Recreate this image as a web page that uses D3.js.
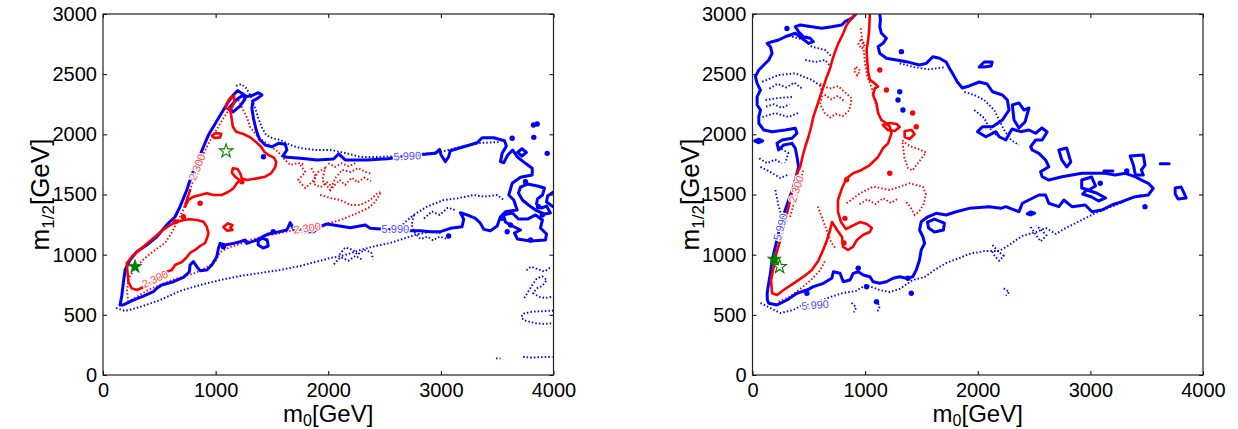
<!DOCTYPE html>
<html><head><meta charset="utf-8">
<script src="https://cdn.jsdelivr.net/npm/d3@7"></script>
<style>
body{margin:0;background:#fff}
text{font-family:"Liberation Sans",Arial,Helvetica,sans-serif}
</style></head>
<body><svg id="c" width="1238" height="429"></svg>
<script>
// ---------- shared axis data ----------
const xTicks = [0,1000,2000,3000,4000];
const yTicks = [0,500,1000,1500,2000,2500,3000];
const xDomain = [0,4000], yDomain = [0,3000];

// ---------- LEFT PANEL ----------
const leftBlueSolid = [
 [[151,582],[166,651],[180,762],[196,873],[240,956],[300,1025],[388,1080],[477,1149],[566,1247],[640,1315],[684,1399],[714,1468],[744,1537],[788,1662],[833,1759],[892,1897],[936,1994],[980,2063],[1025,2133],[1069,2202],[1114,2271],[1158,2327],[1194,2363],[1233,2341],[1277,2313],[1336,2327],[1380,2346],[1411,2327],[1372,2299],[1331,2279],[1322,2216],[1336,2133],[1360,2036],[1389,1959],[1440,1911],[1500,1897],[1558,1925],[1618,1917],[1633,1870],[1597,1820],[1633,1809],[1751,1801],[1900,1787],[2047,1795],[2092,1837],[2151,1787],[2344,1787],[2522,1797],[2640,1809],[2788,1828],[2951,1842],[2989,1876],[3002,1828],[3040,1773],[3069,1814],[3084,1864],[3203,1897],[3322,1930],[3366,1972],[3469,1972],[3564,1947],[3582,1903],[3544,1842],[3529,1773],[3558,1764],[3594,1828],[3638,1870],[3677,1814],[3751,1759],[3811,1718],[3811,1662],[3707,1643],[3633,1593],[3603,1496],[3647,1454],[3677,1371],[3573,1357],[3529,1315],[3500,1238],[3440,1199],[3381,1210],[3351,1261],[3307,1302],[3233,1330],[3173,1349],[3203,1294],[3188,1232],[3084,1219],[2996,1191],[2907,1191],[2818,1199],[2729,1199],[2492,1211],[2373,1219],[2329,1247],[2196,1224],[2047,1247],[1988,1255],[1929,1232],[1869,1191],[1751,1191],[1692,1211],[1662,1266],[1633,1205],[1529,1183],[1469,1172],[1413,1147],[1366,1122],[1277,1094],[1262,1122],[1218,1108],[1158,1094],[1084,1080],[1040,1094],[1025,1053],[1010,983],[966,914],[922,873],[862,867],[833,900],[803,942],[773,914],[767,858],[714,812],[625,775],[522,748],[477,720],[447,692],[358,656],[269,623],[180,582],[151,582]],
 [[1120,2219],[1182,2285],[1244,2327],[1262,2294],[1218,2236],[1156,2186],[1120,2219]],
 [[1378,1114],[1413,1138],[1458,1122],[1467,1072],[1422,1055],[1378,1080],[1378,1114]],
 [[3556,1330],[3635,1346],[3689,1296],[3769,1296],[3840,1330],[3902,1288],[3884,1222],[3938,1172],[3929,1122],[3796,1114],[3680,1130],[3653,1180],[3707,1205],[3635,1238],[3573,1271],[3556,1330]],
 [[3707,1562],[3769,1587],[3858,1571],[3920,1554],[3902,1496],[3858,1463],[3849,1421],[3893,1388],[3938,1404],[3973,1346],[3920,1338],[3840,1371],[3778,1413],[3724,1454],[3689,1512],[3707,1562]],
 [[4000,1521],[3947,1487],[3938,1437],[4000,1396]],
 [[3680,1850],[3720,1880],[3760,1850],[3720,1820],[3680,1850]]
];
const leftBlueDots = [[3633,1967],[3822,2078],[3855,2086],[3825,1975],[3944,1842],[3751,1606],[3867,1399],[3900,1330],[3069,1155],[3618,1247],[3589,1191],[3796,1122],[3544,1302],[1425,1814],[1511,1191],[1069,1066]];
const leftBlueDotted = [
 [[116,557],[196,532],[329,565],[507,623],[684,698],[862,748],[1040,789],[1218,823],[1396,848],[1573,873],[1751,906],[1884,939],[2018,972],[2151,997],[2284,1039],[2418,1072],[2551,1097],[2684,1138],[2800,1172],[2907,1188],[2996,1180]],
 [[2100,1000],[2150,1060],[2220,1040],[2260,1000],[2320,1040],[2380,1020],[2400,960]],
 [[2050,920],[2110,980],[2180,950],[2240,990],[2300,960]],
 [[2760,1330],[2740,1250],[2770,1180],[2820,1130],[2880,1150],[2930,1120],[2990,1150],[3060,1130]],
 [[2596,1188],[2684,1271],[2758,1330],[2877,1399],[3025,1454],[3144,1468],[3292,1496],[3381,1482],[3500,1496],[3558,1454]],
 [[2850,1300],[2920,1360],[2990,1330],[3060,1390],[3130,1370]],
 [[1182,2402],[1227,2418],[1271,2385],[1307,2327],[1342,2244],[1378,2136],[1413,2053],[1449,1994],[1502,1969],[1573,1953],[1662,1911],[1751,1886],[1884,1870],[2018,1870],[2151,1845],[2284,1812],[2462,1812],[2640,1820],[2818,1837],[2996,1853],[3173,1895],[3351,1928],[3529,1936]],
 [[4000,535],[3900,530],[3810,526],[3730,510],[3715,480],[3736,455],[3840,430],[3920,425],[4000,430]],
 [[3760,870],[3800,900],[3860,880],[3920,860],[3980,900]],
 [[3740,640],[3780,700],[3820,760],[3850,800],[3900,820],[3940,790],[3900,740],[3850,720],[3820,680],[3870,650],[3930,640],[3990,650]],
 [[3730,150],[3800,145],[3880,148],[3990,150]],
 [[3490,138],[3530,138]]
];
const leftRedSolid = [
 [[773,1537],[750,1470],[729,1399],[758,1454],[803,1482],[862,1496],[922,1510],[980,1496],[1055,1496],[1114,1523],[1158,1551],[1188,1593],[1212,1620],[1173,1648],[1144,1681],[1153,1718],[1194,1712],[1218,1676],[1233,1634],[1277,1620],[1366,1634],[1440,1648],[1491,1675],[1529,1726],[1538,1773],[1514,1809],[1469,1828],[1431,1856],[1404,1897],[1366,1930],[1307,1975],[1247,2003],[1182,2022],[1153,2063],[1144,2119],[1135,2175],[1123,2219]],
 [[1093,2244],[1129,2302],[1164,2319],[1164,2260],[1129,2202],[1093,2219],[1093,2244]],
 [[966,1990],[1000,2010],[1050,2005],[1040,1975],[990,1970],[966,1990]],
 [[211,928],[225,775],[255,720],[300,706],[358,729],[462,781],[566,858],[611,873],[640,914],[700,939],[738,972],[773,1014],[818,1039],[862,1072],[907,1097],[924,1138],[936,1178],[922,1232],[892,1274],[833,1288],[773,1294],[714,1288],[625,1261],[551,1219],[462,1149],[358,1066],[269,997],[211,928]],
 [[1069,1230],[1110,1260],[1150,1245],[1130,1225],[1150,1205],[1100,1200],[1069,1230]]
];
const leftRedDots = [[714,1315],[862,1427],[1233,1606],[640,1274]];
const leftRedDotted = [
 [[222,607],[213,706],[231,806],[284,889],[373,972],[462,1039],[551,1097],[613,1188],[667,1288],[711,1371],[747,1471],[791,1587],[836,1704],[880,1812],[925,1903],[969,1978],[1022,2061],[1076,2144],[1129,2219],[1173,2269]],
 [[1200,2285],[1244,2202],[1280,2136],[1307,2061],[1360,1994],[1413,1953],[1484,1903],[1556,1853],[1618,1787],[1662,1745],[1733,1762],[1796,1745]],
 [[1751,1745],[1796,1687],[1733,1620],[1796,1554],[1858,1604],[1911,1687],[1973,1720],[1947,1620],[2018,1537],[2062,1637],[2124,1704],[2196,1687],[2267,1720],[2329,1687],[2391,1670]],
 [[1850,1720],[1890,1650],[1870,1590],[1930,1560],[1990,1600],[2040,1560],[2100,1620],[2150,1580],[2210,1640],[2260,1600],[2320,1640],[2380,1610]],
 [[2000,1760],[2060,1730],[2120,1760],[2180,1735],[2240,1760]],
 [[1929,1496],[2018,1471],[2107,1454],[2196,1413],[2284,1413],[2373,1454],[2427,1504],[2462,1521]],
 [[2462,1512],[2418,1438],[2356,1388],[2240,1338],[2107,1288],[1973,1255],[1840,1222],[1707,1205],[1573,1180],[1440,1155],[1307,1122],[1218,1088],[1129,1064],[1040,1022],[996,939],[907,889],[818,848],[729,823],[613,789],[507,748],[400,706],[311,656],[222,607]]
];
const leftLabelText  = ["2.300","2.300","2.300","5.990","5.990"];
const leftLabelAt    = [[462,798],[1813,1221],[836,1728],[2596,1213],[2702,1820]];
const leftLabelKind  = ["red","red","red","blue","blue"];
const leftLabelAngle = [-25,-8,-68,0,-3];
const leftStarFilled = [284,900];
const leftStarHollow = [1093,1861];

// ---------- RIGHT PANEL ----------
const rightBlueSolid = [
 [[918,3000],[880,2964],[821,2936],[792,2909],[704,2894],[615,2881],[527,2894],[424,2909],[380,2894],[409,2853],[453,2811],[512,2798],[541,2770],[497,2756],[439,2798],[380,2840],[291,2811],[232,2784],[174,2770],[130,2756],[159,2728],[174,2673],[144,2618],[100,2576],[56,2535],[26,2479],[41,2424],[71,2368],[41,2313],[41,2244],[71,2202],[56,2147],[56,2092],[100,2036],[174,2022],[291,2036],[380,2050],[395,2009],[351,1967],[262,1953],[218,1925],[232,1870],[276,1911],[351,1925],[380,1884],[395,1814],[409,1731],[395,1676],[365,1565],[321,1454],[291,1371],[262,1288],[232,1178],[203,1066],[174,956],[159,845],[141,748],[130,679],[132,623],[144,596],[218,582],[306,623],[395,679],[483,706],[541,734],[630,762],[704,804],[718,858],[777,845],[806,775],[865,789],[894,845],[939,858],[983,831],[1042,817],[1071,775],[1130,762],[1189,775],[1248,804],[1307,817],[1366,804],[1424,817],[1454,873],[1483,956],[1498,1039],[1528,1094],[1513,1149],[1483,1205],[1498,1274],[1557,1315],[1631,1344],[1719,1330],[1808,1357],[1925,1385],[2102,1399],[2205,1385],[2249,1399],[2366,1357],[2396,1427],[2543,1496],[2602,1496],[2631,1427],[2720,1399],[2764,1454],[2837,1399],[2955,1413],[3014,1357],[3102,1371],[3190,1413],[3279,1440],[3397,1482],[3514,1496],[3558,1551],[3514,1593],[3455,1620],[3397,1648],[3309,1676],[3220,1662],[3132,1676],[3044,1676],[2925,1676],[2749,1648],[2631,1620],[2572,1648],[2558,1689],[2631,1731],[2602,1787],[2543,1842],[2484,1870],[2470,1897],[2514,1953],[2572,1953],[2616,2019],[2570,2053],[2514,2009],[2455,2036],[2381,2022],[2305,2044],[2278,2003],[2249,1953],[2190,1980],[2161,2022],[2072,1980],[1998,2022],[2042,2063],[2131,2063],[2219,2119],[2278,2202],[2263,2285],[2219,2327],[2131,2354],[2084,2418],[2013,2435],[1925,2402],[1863,2385],[1819,2435],[1784,2493],[1748,2551],[1719,2601],[1660,2632],[1601,2645],[1543,2590],[1483,2576],[1424,2590],[1366,2604],[1278,2618],[1189,2632],[1130,2673],[1115,2728],[1159,2756],[1189,2798],[1145,2840],[1130,2894],[1136,2950],[1130,3000]],
 [[1554,1271],[1616,1296],[1704,1263],[1695,1205],[1616,1188],[1563,1222],[1554,1271]],
 [[2923,1620],[3011,1645],[3046,1571],[2985,1537],[2923,1554],[2923,1620]],
 [[2932,1504],[3011,1479],[3073,1446],[3135,1471],[3055,1512],[2967,1537],[2932,1504]],
 [[3353,1820],[3470,1828],[3485,1745],[3453,1704],[3470,1662],[3400,1662],[3382,1745],[3353,1820]],
 [[3753,1554],[3806,1562],[3832,1512],[3850,1471],[3779,1463],[3753,1504],[3753,1554]],
 [[2013,2560],[2057,2601],[2128,2601],[2119,2568],[2057,2560],[2013,2560]],
 [[2307,2244],[2366,2261],[2411,2202],[2455,2219],[2437,2161],[2420,2103],[2366,2053],[2322,2119],[2307,2244]],
 [[2720,1870],[2790,1886],[2808,1828],[2826,1770],[2790,1729],[2746,1787],[2720,1870]],
 [[2440,1340],[2470,1355],[2505,1345],[2470,1330],[2440,1340]],
 [[20,1945],[56,1960],[90,1945],[56,1930],[20,1945]],
 [[3620,1755],[3700,1755]],
 [[3120,1695],[3200,1695]]
];
const rightBlueDots = [[306,2880],[1322,2687],[1307,2354],[1292,2285],[1336,2202],[939,887],[1013,734],[1101,609],[1380,804],[1410,679],[483,679],[3323,1695],[3485,1399],[3088,1593]];
const rightBlueDotted = [
 [[71,598],[141,565],[247,515],[362,540],[424,573],[556,598],[689,648],[804,681],[918,698],[1007,748],[1130,706],[1219,690],[1307,715],[1422,789],[1528,814],[1616,873],[1722,931],[1837,972],[1925,1006],[2057,1030],[2190,1030],[2278,1080],[2393,1155],[2517,1188],[2605,1222],[2693,1172],[2782,1222],[2923,1288],[3046,1346],[3161,1388],[3267,1429],[3364,1471],[3453,1496]],
 [[351,2811],[468,2784],[527,2728],[644,2701],[704,2645]],
 [[468,2618],[556,2601],[644,2618],[689,2568]],
 [[86,2437],[232,2493],[380,2507],[527,2452],[615,2396]],
 [[150,2380],[220,2420],[300,2390],[370,2430],[440,2380]],
 [[115,2285],[230,2302],[353,2310]],
 [[88,2144],[203,2177],[318,2144],[406,2177]],
 [[120,2230],[190,2250],[260,2220],[330,2250]],
 [[230,1895],[318,1845],[291,1762]],
 [[71,1729],[159,1687],[247,1637],[309,1662]],
 [[60,1800],[130,1760],[200,1790],[260,1760]],
 [[203,1537],[230,1413],[256,1330],[274,1222],[247,1122],[212,1022],[177,939]],
 [[1307,2590],[1439,2557],[1572,2540],[1704,2557]],
 [[1881,2352],[1969,2327],[2057,2285],[2146,2202],[2190,2119],[2234,2036],[2296,1953],[2366,1911]],
 [[1969,2202],[2057,2136],[2102,2053],[2164,1994]],
 [[2130,1080],[2180,1030],[2230,990],[2190,950],[2150,990],[2120,1040]],
 [[2470,1230],[2520,1160],[2560,1110],[2610,1160],[2570,1200],[2520,1240]],
 [[880,600],[920,560],[900,520]],
 [[1100,620],[1130,570],[1110,530]],
 [[2230,720],[2280,690],[2250,660]]
];
const rightRedSolid = [
 [[909,3000],[836,2909],[806,2840],[762,2756],[733,2687],[709,2618],[689,2549],[660,2479],[630,2396],[600,2313],[571,2230],[541,2147],[521,2063],[497,1980],[468,1897],[444,1814],[424,1731],[395,1675],[365,1565],[336,1454],[306,1344],[276,1232],[247,1122],[212,1011],[188,900],[165,789],[174,679],[218,665],[276,706],[365,762],[453,817],[527,873],[583,947],[627,1039],[662,1122],[689,1205],[706,1271],[751,1205],[795,1147],[804,1064],[848,1039],[892,1064],[927,1122],[980,1163],[1042,1188],[1060,1222],[1015,1255],[954,1271],[883,1238],[830,1213],[786,1271],[759,1355],[759,1454],[795,1554],[836,1635],[894,1676],[969,1704],[1042,1745],[1115,1812],[1159,1884],[1204,1925],[1234,2009],[1219,2063],[1189,2092],[1145,2119],[1115,2175],[1101,2258],[1071,2327],[1086,2382],[1115,2396],[1086,2424],[1042,2452],[1027,2520],[1018,2618],[1013,2701],[1027,2784],[1036,2867],[1042,3000]],
 [[1157,2078],[1219,2094],[1280,2086],[1307,2061],[1263,2028],[1201,2036],[1157,2078]],
 [[1351,2028],[1413,2036],[1439,2003],[1395,1961],[1351,1978],[1351,2028]]
];
const rightRedDots = [[1130,2535],[1189,2368],[1422,2177],[1454,2063],[1219,1676],[821,1302],[836,1622],[812,1097]];
const rightRedDotted = [
 [[232,610],[330,650],[430,720],[520,790],[600,870],[650,960]],
 [[450,1700],[420,1600],[390,1500],[360,1400],[330,1300]],
 [[600,2420],[680,2380],[760,2400],[820,2350],[880,2300],[860,2200],[800,2150],[740,2170],[690,2140],[640,2180],[600,2250],[620,2320],[600,2420]],
 [[640,2330],[700,2290],[760,2320],[820,2270]],
 [[960,2790],[1000,2750],[970,2710],[940,2750],[960,2790]],
 [[920,2560],[955,2530],[930,2490],[900,2530],[920,2560]],
 [[960,2880],[975,2780],[990,2680],[1000,2580],[1020,2480],[1060,2380],[1080,2300],[1110,2200],[1150,2100]],
 [[1330,1950],[1400,1900],[1470,1880],[1540,1850],[1500,1800],[1460,1750],[1420,1700],[1380,1720],[1350,1800],[1330,1950]],
 [[836,1427],[954,1510],[1071,1565],[1219,1537],[1395,1593],[1513,1565],[1540,1500],[1520,1420],[1480,1360],[1440,1330],[1400,1400],[1350,1450]],
 [[950,1420],[1020,1460],[1090,1420],[1160,1470],[1230,1430],[1300,1470]],
 [[580,1400],[620,1300],[660,1200],[700,1100],[740,1050]]
];
const rightLabelText  = ["5.990","5.990","2.300"];
const rightLabelAt    = [[556,582],[247,1230],[389,1546]];
const rightLabelKind  = ["blue","blue","red"];
const rightLabelAngle = [-5,-75,-72];
const rightStarFilled = [194,961];
const rightStarHollow = [241,900];

// ---------- drawing ----------
const svg = d3.select("#c");
const COL = {blue:"#0000ff", red:"#ff0000", blueLab:"#4d4dff", redLab:"#ff4d4d", star:"#008000"};
const PW = 450.5, TOP = 14, BOT = 375;

function panel(id, x0, d){
  const x = d3.scaleLinear().domain(xDomain).range([x0, x0+PW]);
  const y = d3.scaleLinear().domain(yDomain).range([BOT, TOP]);
  const line = d3.line().x(p=>x(p[0])).y(p=>y(p[1]));
  svg.append("clipPath").attr("id","clip"+id)
    .append("rect").attr("x",x0).attr("y",TOP).attr("width",PW).attr("height",BOT-TOP);
  const g = svg.append("g").attr("clip-path",`url(#clip${id})`);

  const dotted = (arr,col)=>g.append("g").selectAll("path").data(arr).join("path")
      .attr("d",line).attr("fill","none").attr("stroke",col).attr("stroke-width",1.9)
      .attr("stroke-dasharray","1.5 2.1");
  const solid = (arr,col,w)=>g.append("g").selectAll("path").data(arr).join("path")
      .attr("d",line).attr("fill","none").attr("stroke",col).attr("stroke-width",w)
      .attr("stroke-linejoin","round").attr("stroke-linecap","round");
  const dots = (arr,col)=>g.append("g").selectAll("circle").data(arr).join("circle")
      .attr("cx",p=>x(p[0])).attr("cy",p=>y(p[1])).attr("r",2.7).attr("fill",col);

  dotted(d.blueDotted, COL.blue);
  dotted(d.redDotted, COL.red);
  solid(d.blueSolid, COL.blue, 3);
  dots(d.blueDots, COL.blue);
  solid(d.redSolid, COL.red, 2.6);
  dots(d.redDots, COL.red);

  // contour labels
  g.append("g").selectAll("text").data(d.labText.map((t,i)=>({t,p:d.labAt[i],k:d.labKind[i],a:d.labAngle[i]})))
    .join("text")
    .attr("transform",o=>`translate(${x(o.p[0])},${y(o.p[1])}) rotate(${o.a})`)
    .attr("text-anchor","middle").attr("dy","0.35em")
    .attr("font-size",11)
    .attr("fill",o=>o.k==="red"?COL.redLab:COL.blueLab)
    .attr("stroke","#fff").attr("stroke-width",2.5).attr("paint-order","stroke")
    .text(o=>o.t);

  // stars
  const star = d3.symbol().type(d3.symbolStar).size(58);
  g.append("path").attr("d",star).attr("transform",`translate(${x(d.starF[0])},${y(d.starF[1])})`)
    .attr("fill",COL.star).attr("stroke",COL.star).attr("stroke-width",0.8);
  g.append("path").attr("d",star).attr("transform",`translate(${x(d.starH[0])},${y(d.starH[1])})`)
    .attr("fill","none").attr("stroke",COL.star).attr("stroke-width",1.1);

  // axes (inside ticks)
  const ax = svg.append("g");
  ax.append("g").attr("transform",`translate(0,${BOT})`)
    .call(d3.axisBottom(x).tickValues(xTicks).tickFormat(d3.format("d")).tickSize(-4).tickPadding(8));
  ax.append("g").attr("transform",`translate(${x0},0)`)
    .call(d3.axisLeft(y).tickValues(yTicks).tickFormat(d3.format("d")).tickSize(-4).tickPadding(6));
  ax.append("g").attr("transform",`translate(0,${TOP})`)
    .call(d3.axisTop(x).tickValues(xTicks).tickFormat("").tickSize(-4));
  ax.append("g").attr("transform",`translate(${x0+PW},0)`)
    .call(d3.axisRight(y).tickValues(yTicks).tickFormat("").tickSize(-4));
  ax.selectAll(".domain").remove();
  ax.selectAll(".tick line").attr("stroke","#000");
  ax.selectAll("text").attr("fill","#000").attr("font-family",'"Liberation Sans",Arial,sans-serif').attr("font-size",20);
  svg.append("rect").attr("x",x0).attr("y",TOP).attr("width",PW).attr("height",BOT-TOP)
    .attr("fill","none").attr("stroke","#222").attr("stroke-width",1.2);

  // axis titles
  const xt = svg.append("text").attr("x",x0+PW/2).attr("y",422).attr("text-anchor","middle").attr("font-size",24);
  xt.append("tspan").text("m");
  xt.append("tspan").attr("font-size",16).attr("dy",4).text("0");
  xt.append("tspan").attr("dy",-4).text("[GeV]");
  const yt = svg.append("text").attr("transform",`translate(${x0-54},${(TOP+BOT)/2}) rotate(-90)`)
    .attr("text-anchor","middle").attr("font-size",26);
  yt.append("tspan").text("m");
  yt.append("tspan").attr("font-size",17).attr("dy",5).text("1/2");
  yt.append("tspan").attr("dy",-5).text("[GeV]");
}

panel("L", 103, {blueSolid:leftBlueSolid, blueDots:leftBlueDots, blueDotted:leftBlueDotted,
  redSolid:leftRedSolid, redDots:leftRedDots, redDotted:leftRedDotted,
  labText:leftLabelText, labAt:leftLabelAt, labKind:leftLabelKind, labAngle:leftLabelAngle,
  starF:leftStarFilled, starH:leftStarHollow});
panel("R", 752.5, {blueSolid:rightBlueSolid, blueDots:rightBlueDots, blueDotted:rightBlueDotted,
  redSolid:rightRedSolid, redDots:rightRedDots, redDotted:rightRedDotted,
  labText:rightLabelText, labAt:rightLabelAt, labKind:rightLabelKind, labAngle:rightLabelAngle,
  starF:rightStarFilled, starH:rightStarHollow});
</script></body></html>
